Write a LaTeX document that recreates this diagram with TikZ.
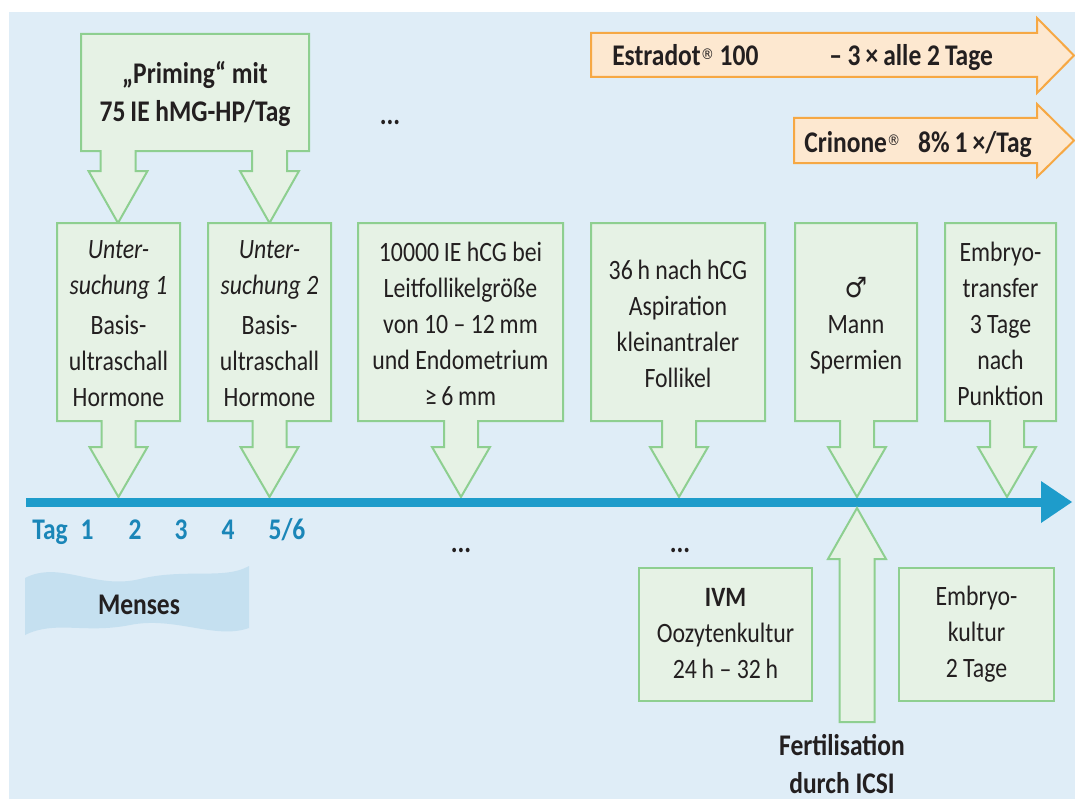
\documentclass[tikz,border=0pt]{standalone}
\usepackage{fontspec}
\setmainfont{Carlito}[FakeStretch=0.85]
\newfontfamily\symfont{DejaVu Sans}[FakeStretch=0.9]

\definecolor{bgblue}{HTML}{DFEDF7}
\definecolor{gfill}{HTML}{E6F2E5}
\definecolor{gline}{HTML}{8ECF90}
\definecolor{ofill}{HTML}{FDE8D0}
\definecolor{oline}{HTML}{F6A844}
\definecolor{tblue}{HTML}{1E9CCB}
\definecolor{tagblue}{HTML}{1A86B8}
\definecolor{menses}{HTML}{C5E0F0}
\definecolor{ink}{HTML}{231F20}

\newcommand\bodyfont{\fontsize{21pt}{27pt}\selectfont}
\newcommand\headfont{\fontsize{22.5pt}{28.5pt}\selectfont\bfseries}
\newcommand\regmark{{\symfont\mdseries\fontsize{11pt}{11pt}\selectfont\raisebox{0.85ex}{®}}}

% box with a downward block arrow ending on the time line
% #1 left, #2 right, #3 x of the arrow tip
\newcommand\tlbox[3]{%
  \draw[greenshape] (#1,223) -- (#2,223) -- (#2,421)
    -- ({#3+17},421) -- ({#3+17},447) -- ({#3+29},447) -- (#3,497)
    -- ({#3-29},447) -- ({#3-17},447) -- ({#3-17},421) -- (#1,421) -- cycle;}

\begin{document}
\begin{tikzpicture}[x=0.75pt,y=-0.75pt,
  greenshape/.style={draw=gline, fill=gfill, line width=1.5pt, line join=miter},
  orangeshape/.style={draw=oline, fill=ofill, line width=1.5pt, line join=miter},
  txt/.style={font=\bodyfont, text=ink, align=center, inner sep=0pt},
  btxt/.style={font=\headfont, text=ink, align=center, inner sep=0pt},
  taglbl/.style={font=\headfont, text=tagblue, inner sep=0pt, anchor=base},
  tline/.style={draw=tblue, line width=6.75pt}]

\useasboundingbox (0,0) rectangle (1075,799);
\fill[white] (0,0) rectangle (1075,799);
\fill[bgblue] (9,12) rectangle (1075,799);

% medication arrows
\draw[orangeshape] (591,33) -- (1037,33) -- (1037,18) -- (1074,55.5)
  -- (1037,93) -- (1037,77) -- (591,77) -- cycle;
\draw[orangeshape] (794,118) -- (1037,118) -- (1037,104) -- (1074,140.5)
  -- (1037,177) -- (1037,163) -- (794,163) -- cycle;
\node[btxt, anchor=base west] (estradot) at (612,66) {Estradot\regmark\ 100};
\node[btxt, anchor=base west] (estradose) at (829,66) {– 3\,×\,alle 2\,Tage};
\node[btxt, anchor=base west] (crinone) at (804,152) {Crinone\regmark\hspace{0.6em}8\%\,1\,×/Tag};

% priming box with its two arrows
\draw[greenshape] (81,34) -- (309,34) -- (309,151)
  -- (287,151) -- (287,171) -- (299,171) -- (269.5,223) -- (240,171) -- (252,171) -- (252,151)
  -- (135.5,151) -- (135.5,171) -- (147.5,171) -- (118,223) -- (88.5,171) -- (100.5,171) -- (100.5,151)
  -- (81,151) -- cycle;
\node[btxt] (priming) at (195,94) {„Priming“ mit\\75\,IE hMG-HP/Tag};
\node[btxt] (dotsA) at (390,122) {...};

% step boxes above the time line
\tlbox{57}{180}{118.5}
\tlbox{208}{331}{269.5}
\tlbox{358}{563}{461}
\tlbox{591}{765}{679}
\tlbox{795}{917}{857}
\tlbox{945}{1056}{1007}

\node[txt] (u1) at (118.5,324) {\itshape Unter-\\\itshape suchung 1\\[3pt]Basis-\\ultraschall\\Hormone};
\node[txt] (u2) at (269.5,324) {\itshape Unter-\\\itshape suchung 2\\[3pt]Basis-\\ultraschall\\Hormone};
\node[txt] (hcg) at (460.5,324) {10000\,IE hCG bei\\Leitfollikelgröße\\von 10 – 12\,mm\\und Endometrium\\≥\,6\,mm};
\node[txt] (asp) at (678,324) {36\,h nach hCG\\Aspiration\\kleinantraler\\Follikel};
\node[txt] (mann) at (856,326) {{\symfont ♂}\\Mann\\Spermien};
\node[txt] (et) at (1000.5,324) {Embryo-\\transfer\\3 Tage\\nach\\Punktion};

% time line
\coordinate (tlstart) at (26,502);
\coordinate (tlend) at (1041,502);
\draw[tline] (tlstart) -- (tlend);
\fill[tblue] (1041,481) -- (1072,502) -- (1041,523) -- cycle;

% day labels
\node[taglbl] (tag) at (50,539) {Tag};
\node[taglbl] (d1) at (87,539) {1};
\node[taglbl] (d2) at (135,539) {2};
\node[taglbl] (d3) at (181,539) {3};
\node[taglbl] (d4) at (228,539) {4};
\node[taglbl] (d56) at (287,539) {5/6};

% menstruation band
\fill[menses] (25,578) .. controls (60,560) and (95,590) .. (140,579)
  .. controls (185,568) and (225,580) .. (249,566)
  -- (249,628) .. controls (215,640) and (175,616) .. (130,625)
  .. controls (85,634) and (55,620) .. (25,635) -- cycle;
\node[btxt, anchor=base] (menses) at (139,614) {Menses};

\node[btxt] (dotsB) at (461,550) {...};
\node[btxt] (dotsC) at (680,550) {...};

% fertilisation arrow pointing up to the time line
\draw[greenshape] (857,508) -- (886,559) -- (874.5,559) -- (874.5,722)
  -- (839.5,722) -- (839.5,559) -- (828,559) -- cycle;
\node[btxt] (icsi) at (842,764) {Fertilisation\\durch ICSI};

% culture boxes below the time line
\draw[greenshape] (639,568) rectangle (812,701);
\draw[greenshape] (899,568) rectangle (1054,701);
\node[txt] (ivm) at (725.5,634) {\textbf{IVM}\\Oozytenkultur\\24\,h – 32\,h};
\node[txt] (ek) at (976.5,634) {Embryo-\\kultur\\2 Tage};

\end{tikzpicture}
\end{document}
